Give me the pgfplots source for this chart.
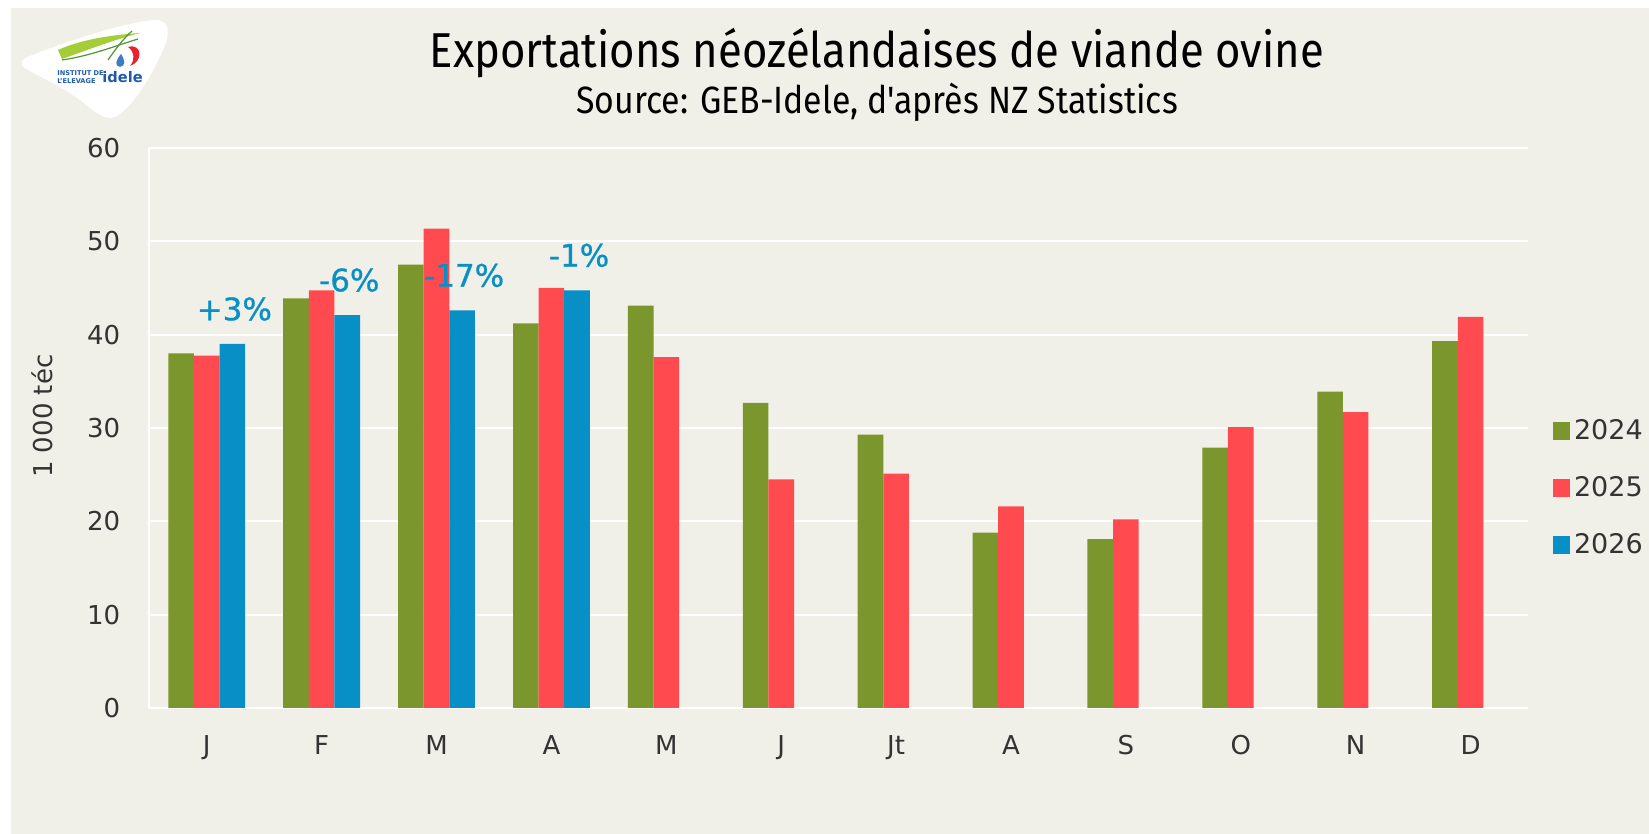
\documentclass[border=0pt]{standalone}
\usepackage{fontspec}
\setmainfont{DejaVu Sans}
\newfontfamily\titlefont[FakeStretch=0.89]{Fira Sans}
\newfontfamily\pctfont[FakeBold=0.8]{DejaVu Sans}
\usepackage{pgfplots}
\pgfplotsset{compat=1.18}
\definecolor{bg}{RGB}{240,240,232}
\definecolor{g24}{RGB}{123,150,45}
\definecolor{r25}{RGB}{255,75,80}
\definecolor{b26}{RGB}{8,143,197}
\definecolor{txt}{RGB}{51,51,51}
\definecolor{logoblue}{RGB}{30,90,170}
\definecolor{lgreen}{RGB}{165,205,55}
\definecolor{dgreen}{RGB}{80,150,50}
\definecolor{lred}{RGB}{230,35,45}
\definecolor{ldrop}{RGB}{60,125,195}
\pgfplotsset{sq/.style={legend image code/.code={\fill[##1] (0pt,-4.35pt) rectangle (8.7pt,4.35pt);}}}
\begin{document}
\begin{tikzpicture}
\useasboundingbox (0pt,0pt) rectangle (824.5pt,417pt);
\fill[white] (0pt,0pt) rectangle (824.5pt,417pt);
\fill[bg] (5.5pt,0pt) rectangle (824.5pt,413pt);
\begin{scope}
\clip (0pt,0pt) rectangle (824.5pt,417pt);
% logo (image pixel coordinates)
\begin{scope}[x=0.5pt,y=-0.5pt,shift={(0pt,417pt)}]
\fill[white] (30,56) .. controls (70,40) and (130,21) .. (155,20) .. controls (171,20) and (170,35) .. (163,50) .. controls (150,80) and (130,110) .. (115,117) .. controls (105,121) and (95,112) .. (80,100) .. controls (60,85) and (35,75) .. (25,68) .. controls (18,63) and (22,59) .. (30,56) -- cycle;
\fill[lgreen] (58,50) .. controls (80,40) and (110,35) .. (140,33) .. controls (110,41) and (85,51) .. (62,59) -- cycle;
\draw[dgreen, line width=0.6pt] (62,60) .. controls (90,56) and (115,46) .. (138,39);
\draw[dgreen, line width=0.6pt] (132,31) .. controls (122,40) and (115,50) .. (108,60);
\fill[lred] (128,47) .. controls (143,43) and (143,62) .. (130,66) .. controls (135,60) and (135,52) .. (128,47) -- cycle;
\fill[ldrop] (121,54) .. controls (116,60) and (114,66) .. (120,67) .. controls (126,66) and (125,60) .. (121,54) -- cycle;
\node[anchor=west, font=\bfseries\fontsize{3.3}{3.9}\selectfont, text=logoblue, align=left, inner sep=0pt] at (57,77) {INSTITUT DE\\L'ELEVAGE};
\node[anchor=west, font=\bfseries\fontsize{7.3}{8}\selectfont, text=logoblue, inner sep=0pt] at (102,77) {idele};
\end{scope}
\node[anchor=base, inner sep=0pt, font=\titlefont\fontsize{24.5}{29}\selectfont, text=black] at (438.5pt,383.3pt) {Exportations néozélandaises de viande ovine};
\node[anchor=base, inner sep=0pt, font=\titlefont\fontsize{19}{23}\selectfont, text=black] at (438.5pt,360pt) {Source: GEB-Idele, d'après NZ Statistics};
\begin{axis}[
  at={(74.65pt,63pt)}, anchor=south west,
  scale only axis, width=689.35pt, height=280pt,
  xmin=-0.5, xmax=11.5, ymin=0, ymax=60,
  ytick={0,10,...,60},
  xtick={0,...,11},
  xticklabels={J,F,M,A,M,J,Jt,A,S,O,N,D},
  ybar=0pt, bar width=12.8pt,
  axis background/.style={fill=bg},
  axis x line*=bottom, axis y line*=left,
  axis line style={white, line width=1pt, -},
  ymajorgrids, grid style={white, line width=1pt},
  major tick length=0pt,
  tick label style={font=\fontsize{13}{15}\selectfont, text=txt},
  yticklabel style={xshift=-11pt},
  xticklabel style={yshift=-10pt},
  /pgf/number format/assume math mode=true,
  ylabel={1 000 téc},
  ylabel style={at={(axis description cs:-0.0778,0.521)}, anchor=center, font=\fontsize{13}{15}\selectfont, text=txt},
  legend style={draw=none, fill=none, at={(axis description cs:1.0176,0.393)}, anchor=west, inner sep=0pt, row sep=13pt, font=\fontsize{13.5}{16}\selectfont, text=txt},
  legend cell align=left,
]
\addplot[fill=g24, draw=none, sq] coordinates {(0,38.0) (1,43.9) (2,47.5) (3,41.2) (4,43.1) (5,32.7) (6,29.3) (7,18.8) (8,18.1) (9,27.9) (10,33.9) (11,39.3)};
\addlegendentry{2024}
\addplot[fill=r25, draw=none, sq] coordinates {(0,37.75) (1,44.75) (2,51.35) (3,45.0) (4,37.6) (5,24.5) (6,25.1) (7,21.6) (8,20.2) (9,30.1) (10,31.7) (11,41.9)};
\addlegendentry{2025}
\addplot[fill=b26, draw=none, sq, point meta=explicit symbolic, nodes near coords,
  every node near coord/.append style={anchor=center, xshift=1pt, yshift=17.5pt, font=\pctfont\fontsize{15.5}{18}\selectfont, text=b26}]
  coordinates {(0,39.0) [+3\%] (1,42.1) [-6\%] (2,42.6) [-17\%] (3,44.75) [-1\%]};
\addlegendentry{2026}
\end{axis}
\end{scope}
\end{tikzpicture}
\end{document}
